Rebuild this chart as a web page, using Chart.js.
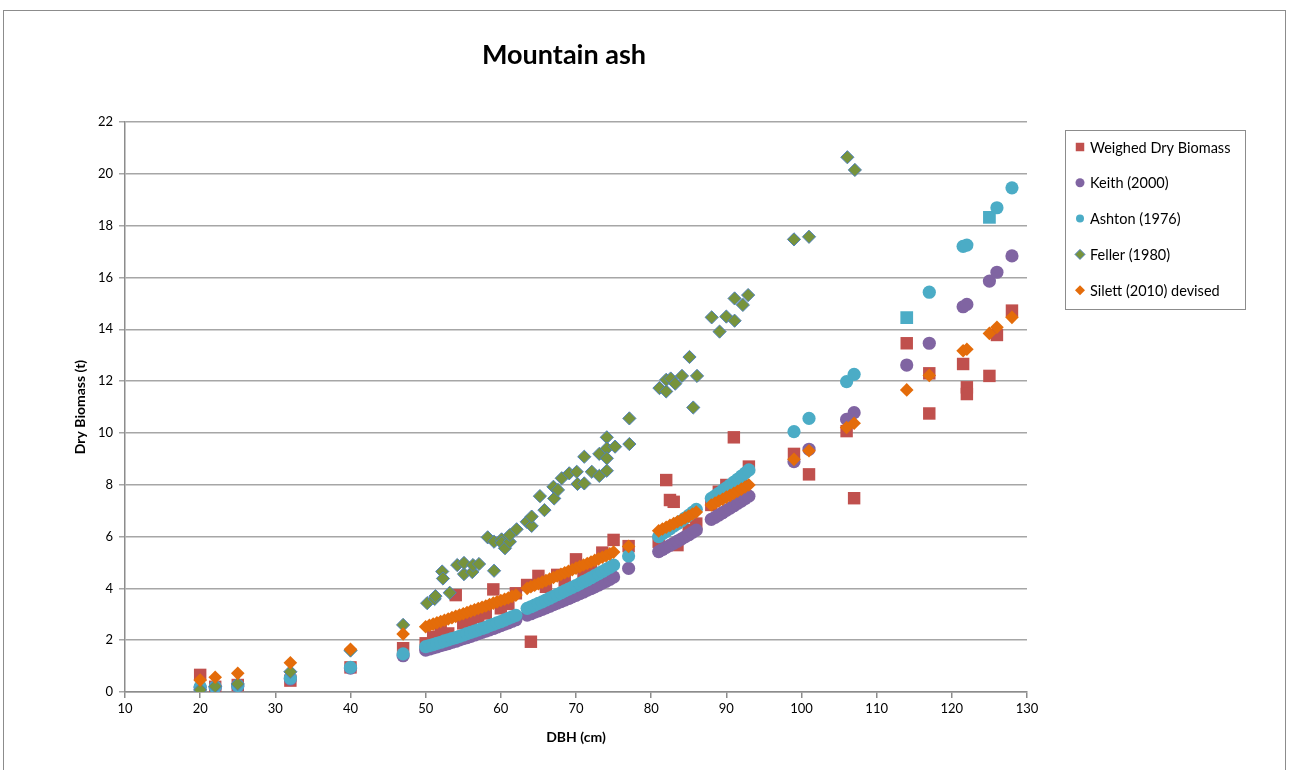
<!DOCTYPE html>
<html>
<head>
<meta charset="utf-8">
<title>Mountain ash</title>
<script src="https://cdn.jsdelivr.net/npm/chart.js@4.4.1/dist/chart.umd.min.js"></script>
<style>
  html, body { margin: 0; padding: 0; background: #fff; }
  #wrap { width: 1290px; height: 770px; position: relative; }
</style>
</head>
<body>
<div id="wrap"><canvas id="biomassChart"></canvas></div>
<script>
// DBH (cm) of the trees, shared by the three allometric models
const treeDbh = [20, 22, 25, 32, 40, 47,
  50, 50.5, 51, 51.5, 52, 52.5, 53, 53.5, 54, 54.5, 55, 55.5, 56, 56.5, 57, 57.5, 58, 58.5, 59, 59.5, 60, 60.5, 61, 61.5, 62,
  63.5, 64, 64.5, 65, 65.5, 66, 66.5, 67, 67.5, 68, 68.5, 69, 69.5, 70, 70.5, 71, 71.5, 72, 72.5, 73, 73.5, 74, 74.5, 75,
  77,
  81, 81.5, 82, 82.5, 83, 83.5, 84, 84.5, 85, 85.5, 86,
  88, 88.5, 89, 89.5, 90, 90.5, 91, 91.5, 92, 92.5, 93,
  99, 101, 106, 107, 114, 117, 121.5, 122, 125, 126, 128];

const keithDry = [0.18, 0.17, 0.22, 0.50, 0.92, 1.40,
  1.62, 1.66, 1.70, 1.74, 1.79, 1.83, 1.87, 1.92, 1.96, 2.01, 2.06, 2.10, 2.15, 2.20, 2.25, 2.30, 2.35, 2.40, 2.45, 2.51, 2.56, 2.62, 2.67, 2.73, 2.79,
  2.97, 3.02, 3.08, 3.13, 3.19, 3.25, 3.31, 3.37, 3.43, 3.49, 3.55, 3.61, 3.67, 3.73, 3.80, 3.86, 3.93, 3.99, 4.06, 4.13, 4.20, 4.27, 4.35, 4.44,
  4.77,
  5.42, 5.50, 5.58, 5.66, 5.74, 5.82, 5.90, 5.99, 6.07, 6.16, 6.25,
  6.66, 6.74, 6.83, 6.92, 7.01, 7.10, 7.19, 7.28, 7.37, 7.47, 7.56,
  8.89, 9.37, 10.52, 10.78, 12.62, 13.46, 14.87, 14.96, 15.86, 16.20, 16.83];

const ashtonDry = [0.20, 0.20, 0.25, 0.53, 0.95, 1.47,
  1.75, 1.79, 1.83, 1.88, 1.92, 1.97, 2.01, 2.06, 2.10, 2.15, 2.20, 2.25, 2.30, 2.35, 2.40, 2.45, 2.50, 2.56, 2.61, 2.67, 2.72, 2.78, 2.84, 2.90, 2.96,
  3.23, 3.29, 3.35, 3.42, 3.48, 3.55, 3.62, 3.69, 3.76, 3.83, 3.90, 3.97, 4.04, 4.11, 4.18, 4.26, 4.33, 4.41, 4.49, 4.57, 4.65, 4.73, 4.81, 4.90,
  5.25,
  6.00, 6.10, 6.20, 6.30, 6.40, 6.50, 6.60, 6.71, 6.82, 6.93, 7.05,
  7.47, 7.57, 7.67, 7.78, 7.88, 7.99, 8.10, 8.21, 8.33, 8.45, 8.57,
  10.05, 10.56, 11.98, 12.26, 14.45, 15.43, 17.20, 17.25, 18.32, 18.69, 19.46];

const silettDry = [0.46, 0.57, 0.72, 1.13, 1.65, 2.24,
  2.52, 2.57, 2.62, 2.67, 2.72, 2.77, 2.82, 2.87, 2.92, 2.97, 3.02, 3.07, 3.12, 3.17, 3.22, 3.27, 3.32, 3.38, 3.43, 3.48, 3.53, 3.58, 3.63, 3.69, 3.74,
  4.00, 4.06, 4.12, 4.18, 4.24, 4.30, 4.36, 4.42, 4.48, 4.54, 4.60, 4.66, 4.72, 4.78, 4.84, 4.90, 4.96, 5.02, 5.08, 5.14, 5.20, 5.26, 5.33, 5.40,
  5.62,
  6.22, 6.29, 6.36, 6.43, 6.50, 6.57, 6.64, 6.72, 6.79, 6.87, 6.95,
  7.22, 7.29, 7.37, 7.44, 7.52, 7.59, 7.67, 7.75, 7.83, 7.91, 7.99,
  8.98, 9.31, 10.21, 10.37, 11.66, 12.22, 13.17, 13.23, 13.84, 14.08, 14.46];

// weighed trees
const weighedDbh = [20, 22, 25, 32, 40, 47, 50, 51, 52, 53, 54, 55, 56, 57, 58, 59, 60, 61, 62,
  63.5, 64, 65, 66, 67.5, 68.5, 70, 71, 72, 73.5, 75, 77,
  81, 82, 82.5, 83, 83.5, 85, 86, 88, 89, 90, 91, 92, 93,
  99, 101, 106, 107, 114, 117, 117, 121.5, 122, 122, 125, 126, 128];
const weighedDry = [0.66, 0.20, 0.27, 0.44, 0.95, 1.69, 1.88, 2.13, 2.39, 2.26, 3.74, 2.65, 2.78, 2.90, 3.03, 3.96, 3.23, 3.40, 3.81,
  4.13, 1.94, 4.48, 4.06, 4.52, 4.30, 5.12, 4.60, 4.80, 5.38, 5.87, 5.63,
  5.80, 8.18, 7.41, 7.34, 5.67, 6.25, 6.50, 7.22, 7.73, 7.99, 9.83, 8.20, 8.70,
  9.19, 8.40, 10.07, 7.48, 13.46, 12.30, 10.75, 12.66, 11.76, 11.50, 12.20, 13.78, 14.72];

// Feller (1980)
const fellerDbh = [20, 22, 25, 32, 40, 47,
  50.2, 51.2, 51.3, 52.2, 52.3, 53.2, 54.2, 55.1, 55.1, 56.2, 56.3, 57.1, 58.25, 59.1, 59.1, 60.1, 60.1, 60.55, 61.2, 61.2,
  62.1, 63.45, 64.1, 64.1, 65.2, 65.8, 67.0, 67.1, 67.6, 68.1, 69.1, 70.1, 70.2, 71.1, 71.1, 72.1, 73.1, 73.1, 74.1, 74.1,
  74.1, 74.1, 75.2, 77.1, 77.1,
  81.1, 82.0, 82.0, 82.6, 83.2, 84.1, 85.1, 85.6, 86.1,
  88.05, 89.1, 90.0, 91.1, 91.1, 92.2, 92.9,
  99, 101, 106.1, 107.1];
const fellerDry = [0.08, 0.22, 0.31, 0.78, 1.60, 2.59,
  3.43, 3.59, 3.70, 4.65, 4.38, 3.83, 4.90, 4.55, 4.98, 4.63, 4.90, 4.94, 5.97, 5.80, 4.68, 5.89, 5.76, 5.55, 5.80, 6.06,
  6.28, 6.57, 6.41, 6.77, 7.56, 7.02, 7.92, 7.47, 7.80, 8.25, 8.44, 8.50, 8.03, 9.08, 8.05, 8.50, 9.19, 8.34, 9.83, 9.40,
  9.02, 8.54, 9.47, 10.56, 9.57,
  11.73, 11.60, 12.05, 12.10, 11.90, 12.20, 12.93, 10.98, 12.20,
  14.46, 13.91, 14.49, 14.33, 15.19, 14.94, 15.32,
  17.47, 17.57, 20.64, 20.15];

// Ashton points that show as squares in the original
const ashtonSquareAt = [114, 125];

const FONT = "Lato, 'Liberation Sans', sans-serif";
Chart.defaults.font.family = FONT;
Chart.defaults.color = '#000';

function toPoints(xs, ys) {
    return xs.map((x, i) => ({ x: x, y: ys[i] }));
}

// title, outer frame and boxed legend (Excel style)
const excelDecor = {
    id: 'excelDecor',
    beforeDraw(chart) {
        const ctx = chart.ctx;
        ctx.save();
        ctx.fillStyle = '#fff';
        ctx.fillRect(0, 0, chart.width, chart.height);
        ctx.restore();
    },
    afterDraw(chart) {
        const ctx = chart.ctx;
        ctx.save();
        ctx.strokeStyle = '#8c8c8c';
        ctx.lineWidth = 1;
        ctx.strokeRect(3.5, 10.5, 1282, 800);

        ctx.fillStyle = '#000';
        ctx.font = 'bold 27px ' + FONT;
        ctx.textAlign = 'center';
        ctx.textBaseline = 'middle';
        ctx.fillText('Mountain ash', 564, 55);

        // legend
        ctx.strokeStyle = '#8c8c8c';
        ctx.strokeRect(1065.5, 130.5, 180, 179);
        ctx.font = '14.5px ' + FONT;
        ctx.textAlign = 'left';
        chart.data.datasets.forEach((ds, i) => {
            const y = 147 + i * 35.8;
            ctx.fillStyle = ds.backgroundColor;
            ctx.strokeStyle = ds.borderColor || ds.backgroundColor;
            ctx.lineWidth = ds.borderWidth || 0;
            Chart.helpers.drawPoint(ctx, {
                pointStyle: ds.legendStyle,
                radius: ds.legendRadius,
                rotation: 0,
                borderWidth: ds.borderWidth || 0
            }, 1080, y);
            ctx.fillStyle = '#000';
            ctx.fillText(ds.label, 1090, y + 1);
        });
        ctx.restore();
    }
};

new Chart(document.getElementById('biomassChart'), {
    type: 'scatter',
    data: {
        datasets: [{
            label: 'Weighed Dry Biomass',
            data: toPoints(weighedDbh, weighedDry),
            backgroundColor: '#C0504D',
            pointStyle: 'rect',
            pointRadius: 8.8,
            borderWidth: 0,
            legendStyle: 'rect',
            legendRadius: 6,
            order: 5
        }, {
            label: 'Keith (2000)',
            data: toPoints(treeDbh, keithDry),
            backgroundColor: '#8064A2',
            pointStyle: 'circle',
            pointRadius: 6.6,
            borderWidth: 0,
            legendStyle: 'circle',
            legendRadius: 4.5,
            order: 4
        }, {
            label: 'Ashton (1976)',
            data: toPoints(treeDbh, ashtonDry),
            backgroundColor: '#4BACC6',
            pointStyle: ctx => ashtonSquareAt.includes(treeDbh[ctx.dataIndex]) ? 'rect' : 'circle',
            pointRadius: ctx => ashtonSquareAt.includes(treeDbh[ctx.dataIndex]) ? 9 : 6.6,
            borderWidth: 0,
            legendStyle: 'circle',
            legendRadius: 4,
            order: 3
        }, {
            label: 'Feller (1980)',
            data: toPoints(fellerDbh, fellerDry),
            backgroundColor: '#77933C',
            borderColor: '#4F81BD',
            borderWidth: 1,
            pointStyle: 'rectRot',
            pointRadius: 6.6,
            legendStyle: 'rectRot',
            legendRadius: 5,
            order: 2
        }, {
            label: 'Silett (2010) devised',
            data: toPoints(treeDbh, silettDry),
            backgroundColor: '#E46C0A',
            pointStyle: 'rectRot',
            pointRadius: 6.8,
            borderWidth: 0,
            legendStyle: 'rectRot',
            legendRadius: 5,
            order: 1
        }]
    },
    options: {
        responsive: true,
        maintainAspectRatio: false,
        animation: false,
        layout: { padding: { left: 68, top: 122, right: 263, bottom: 20 } },
        plugins: {
            legend: { display: false },
            title: { display: false },
            tooltip: { enabled: false }
        },
        scales: {
            x: {
                type: 'linear',
                min: 10,
                max: 130,
                ticks: { stepSize: 10, font: { size: 13 }, padding: 3 },
                grid: { drawOnChartArea: false, drawTicks: true, tickLength: 6, color: '#8c8c8c', lineWidth: 1.5 },
                border: { color: '#8c8c8c', width: 1.5 },
                title: { display: true, text: 'DBH (cm)', font: { size: 14, weight: 'bold' }, padding: { top: 4, bottom: 4 } },
                afterFit(scale) { scale.height = 58; }
            },
            y: {
                min: 0,
                max: 22,
                ticks: { stepSize: 2, font: { size: 13 }, padding: 6 },
                grid: { color: '#a6a6a6', lineWidth: 1.5, tickLength: 6, drawTicks: true },
                border: { color: '#8c8c8c', width: 1.5 },
                title: { display: true, text: 'Dry Biomass (t)', font: { size: 14, weight: 'bold' }, padding: { top: 4, bottom: 4 } },
                afterFit(scale) { scale.width = 57; }
            }
        }
    },
    plugins: [excelDecor]
});
</script>
</body>
</html>
